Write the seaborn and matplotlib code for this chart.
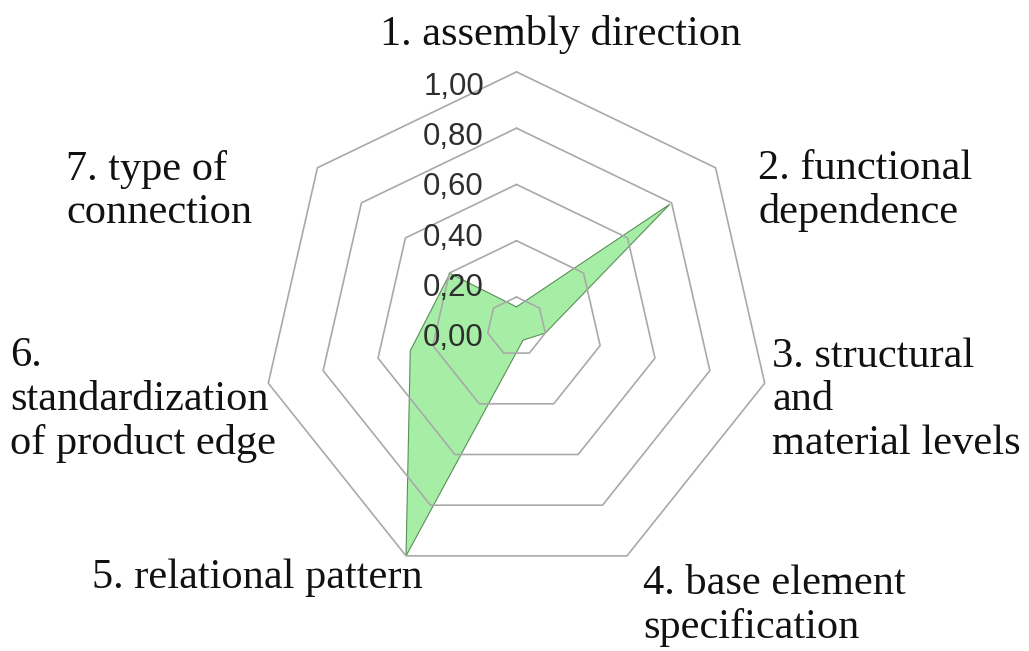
import numpy as np
import matplotlib
matplotlib.use("Agg")
import matplotlib.pyplot as plt
import seaborn as sns

# ---- data ----
categories = [
    "1. assembly direction",
    "2. functional\ndependence",
    "3. structural\nand\nmaterial levels",
    "4. base element\nspecification",
    "5. relational pattern",
    "6.\nstandardization\nof product edge",
    "7. type of\nconnection",
]
values = [-0.044, 0.74, 0.0, -0.064, 1.0, 0.353, 0.247]
ring_levels = [0.0, 0.25, 0.5, 0.75, 1.0]
tick_labels = ["1,00", "0,80", "0,60", "0,40", "0,20", "0,00"]

# ---- style ----
sns.set_style("white")
plt.rcParams["font.family"] = ["Liberation Serif", "DejaVu Serif"]

W, H = 1029, 651
fig = plt.figure(figsize=(W / 100, H / 100), dpi=100)

cx, cy, R = 516.5, 326.5, 254.6
ax = fig.add_axes([(cx - R) / W, (H - cy - R) / H, 2 * R / W, 2 * R / H],
                  projection="polar")
ax.set_theta_offset(np.pi / 2)
ax.set_theta_direction(-1)
ax.set_ylim(-0.1311, 1.0)
ax.grid(False)
ax.spines["polar"].set_visible(False)
ax.set_xticks([])
ax.set_yticks([])
ax.set_facecolor("none")

n = len(categories)
theta = np.linspace(0, 2 * np.pi, n, endpoint=False)
theta_c = np.append(theta, theta[0])
vals_c = np.append(values, values[0])

# data area
ax.fill(theta_c, vals_c, color="#a6eea6", zorder=2, lw=0)
sns.lineplot(x=theta_c, y=vals_c, sort=False, estimator=None, ax=ax,
             color="#5a8f5a", lw=0.8, zorder=3)
ax.set_xlabel("")
ax.set_ylabel("")

# heptagon rings
for lv in ring_levels:
    ax.plot(theta_c, [lv] * (n + 1), color="#a9a9a9", lw=1.2, zorder=4,
            clip_on=False)

# radial tick labels
for i, t in enumerate(tick_labels):
    y = 87 + 50.2 * i
    fig.text(484 / W, 1 - y / H, t, ha="right", va="center",
             fontsize=22.5, color="#2e2e2e", family=["Liberation Sans", "DejaVu Sans"],
             zorder=5)

# category labels (pixel positions)
label_pos = [
    (561, 35, "center"),
    (758, 191, "left"),
    (772, 400, "left"),
    (643, 606, "left"),
    (92, 578, "left"),
    (10, 400, "left"),
    (66, 191, "left"),
]
for txt, (x, y, ha) in zip(categories, label_pos):
    fig.text(x / W, 1 - y / H, txt, ha=ha, va="center", fontsize=30.5,
             color="#111111", linespacing=1.17)

fig.savefig("out.png", dpi=100)
